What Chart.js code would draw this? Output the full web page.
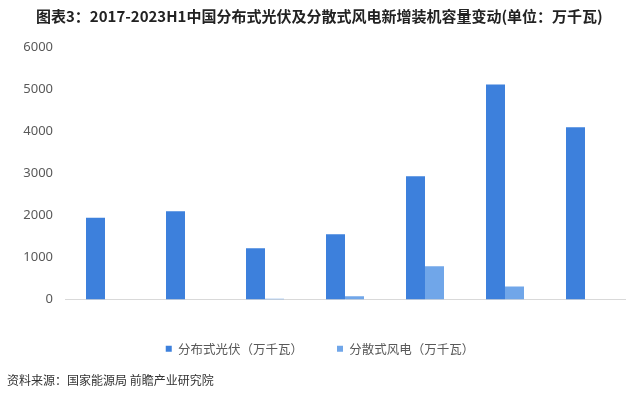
<!DOCTYPE html>
<html>
<head>
<meta charset="utf-8">
<script src="https://cdn.jsdelivr.net/npm/chart.js@4.4.1/dist/chart.umd.min.js"></script>
<style>
  html, body { margin: 0; padding: 0; background: #fff; }
  #wrap { position: relative; width: 640px; height: 397px; overflow: hidden; }
  #chart { position: absolute; left: 0; top: 0; }
  .title {
    position: absolute; left: 36px; top: 6px; white-space: nowrap;
    font-family: "Noto Sans CJK SC", sans-serif; font-weight: bold;
    font-size: 15px; line-height: 20px; color: #222;
  }
  .source {
    position: absolute; left: 7px; top: 371px; white-space: nowrap;
    font-family: "Noto Sans CJK SC", sans-serif;
    font-size: 12px; line-height: 18px; color: #333;
  }
</style>
</head>
<body>
<div id="wrap">
  <canvas id="chart" width="640" height="397"></canvas>
  <div class="title">图表3：2017-2023H1中国分布式光伏及分散式风电新增装机容量变动(单位：万千瓦)</div>
  <div class="source">资料来源：国家能源局 前瞻产业研究院</div>
</div>
<script>
const years = ["2017", "2018", "2019", "2020", "2021", "2022", "2023H1"];
const solarValues = [1944, 2096, 1220, 1552, 2928, 5111, 4096];
const windValues = [null, null, 20, 80, 790, 310, null];
const seriesNames = ["分布式光伏（万千瓦）", "分散式风电（万千瓦）"];
const yTicks = [0, 1000, 2000, 3000, 4000, 5000, 6000];

const tickFont = { family: "'Noto Sans', sans-serif", size: 13 };

new Chart(document.getElementById("chart"), {
  type: "bar",
  data: {
    labels: years,
    datasets: [
      {
        label: seriesNames[0],
        data: solarValues,
        backgroundColor: "#3d80dc"
      },
      {
        label: seriesNames[1],
        data: windValues,
        backgroundColor: "#70a6e9"
      }
    ]
  },
  options: {
    responsive: false,
    animation: false,
    layout: { padding: { top: 47, right: 15, bottom: 32, left: 15 } },
    categoryPercentage: 0.475,
    barPercentage: 1,
    plugins: {
      legend: {
        position: "bottom",
        labels: {
          boxWidth: 6,
          boxHeight: 6,
          padding: 34,
          color: "#595959",
          font: { family: "'Noto Sans CJK SC', sans-serif", size: 12.5 }
        }
      },
      tooltip: { enabled: false }
    },
    scales: {
      x: {
        grid: { display: false, drawTicks: false },
        border: { display: true, color: "#d9d9d9", width: 1 },
        ticks: { color: "#595959", font: tickFont, padding: 10, maxRotation: 0 },
        afterFit: (scale) => { scale.height = 9; }
      },
      y: {
        min: 0,
        max: 6000,
        grid: { display: false, drawTicks: false },
        border: { display: false },
        afterBuildTicks: (scale) => { scale.ticks = yTicks.map((v) => ({ value: v })); },
        ticks: {
          color: "#595959",
          font: tickFont,
          padding: 12,
          callback: (value) => String(value)
        },
        afterFit: (scale) => { scale.width = 50; }
      }
    }
  }
});
</script>
</body>
</html>
